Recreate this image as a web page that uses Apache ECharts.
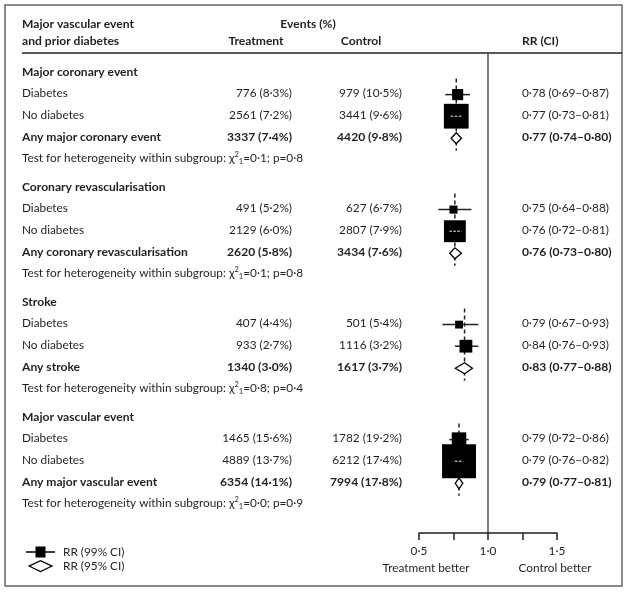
<!DOCTYPE html>
<html><head><meta charset="utf-8">
<script src="https://cdn.jsdelivr.net/npm/echarts@6/dist/echarts.min.js"></script>
<style>html,body{margin:0;padding:0;background:#fff}#c{width:629px;height:592px}</style>
</head><body><div id="c"></div><script>
// ---- data ----
const groups = ['Major coronary event','Coronary revascularisation','Stroke','Major vascular event'];
const totalLabels = ['Any major coronary event','Any coronary revascularisation','Any stroke','Any major vascular event'];
const subgroups = ['Diabetes','No diabetes'];
const treatEvents = [[776,2561,3337],[491,2129,2620],[407,933,1340],[1465,4889,6354]];
const treatPct = [[8.3,7.2,7.4],[5.2,6.0,5.8],[4.4,2.7,3.0],[15.6,13.7,14.1]];
const ctrlEvents = [[979,3441,4420],[627,2807,3434],[501,1116,1617],[1782,6212,7994]];
const ctrlPct = [[10.5,9.6,9.8],[6.7,7.9,7.6],[5.4,3.2,3.7],[19.2,17.4,17.8]];
const rr = [[0.78,0.77,0.77],[0.75,0.76,0.76],[0.79,0.84,0.83],[0.79,0.79,0.79]];
const rrLow = [[0.69,0.73,0.74],[0.64,0.72,0.73],[0.67,0.76,0.77],[0.72,0.76,0.77]];
const rrHigh = [[0.87,0.81,0.80],[0.88,0.81,0.80],[0.93,0.93,0.88],[0.86,0.82,0.81]];
const hetChi2 = [0.1,0.1,0.8,0.0];
const hetP = [0.8,0.8,0.4,0.9];
const xTickLabels = [0.5,1.0,1.5];

// ---- layout ----
const FONT = 'Lato, "DejaVu Sans", sans-serif';
const TXT = '#231f20';
const FS = 11.8, FSB = 12.1;
const ROW = 21.6, ROW0 = 72, GSTEP = 115, AXIS_Y = 533, HEAD_Y = 53;
const toRow = px => (px - ROW0) / ROW;
const rowOf = (g, k) => (g * GSTEP) / ROW + k;
const dot = (v, d) => v.toFixed(d).replace('.', '\u00b7');
const cell = (n, p) => n + ' (' + dot(p, 1) + '%)';

const COL_LABEL = 22, COL_TREAT = 292, COL_CTRL = 402, COL_RR = 522;

const textItems = [];
function addText(x, y, text, align, bold, rich) {
  textItems.push({ value: [x, y], text, align, bold, rich });
}
addText(COL_LABEL, toRow(24), 'Major vascular event', 'left', true);
addText(COL_LABEL, toRow(41), 'and prior diabetes', 'left', true);
addText(308, toRow(24), 'Events (%)', 'center', true);
addText(256, toRow(41), 'Treatment', 'center', true);
addText(361, toRow(41), 'Control', 'center', true);
addText(COL_RR, toRow(41), 'RR (CI)', 'left', true);

const boxData = [], diamondData = [], dashData = [];
groups.forEach((gName, g) => {
  addText(COL_LABEL, rowOf(g, 0), gName, 'left', true);
  for (let r = 0; r < 3; r++) {
    const y = rowOf(g, r + 1);
    const bold = r === 2;
    addText(COL_LABEL, y, r < 2 ? subgroups[r] : totalLabels[g], 'left', bold);
    addText(COL_TREAT, y, cell(treatEvents[g][r], treatPct[g][r]), 'right', bold);
    addText(COL_CTRL, y, cell(ctrlEvents[g][r], ctrlPct[g][r]), 'right', bold);
    addText(COL_RR, y, dot(rr[g][r], 2) + ' (' + dot(rrLow[g][r], 2) + '\u2013' + dot(rrHigh[g][r], 2) + ')', 'left', bold);
    const item = [rr[g][r], rrLow[g][r], rrHigh[g][r], y];
    if (r < 2) boxData.push(item); else diamondData.push(item);
  }
  addText(COL_LABEL, rowOf(g, 4),
    'Test for heterogeneity within subgroup: \u03c7{sup|2}{sub|1}=' + dot(hetChi2[g], 1) + '; p=' + dot(hetP[g], 1),
    'left', false, true);
  dashData.push([rr[g][2], rowOf(g, 1) - 0.7, rowOf(g, 3) + 0.65]);
});

const chart = echarts.init(document.getElementById('c'), null, { renderer: 'canvas' });

function renderText(params, api) {
  const it = textItems[params.dataIndex];
  const p = api.coord([api.value(0), api.value(1)]);
  const style = {
    text: it.text, x: 0, y: 0,
    fill: TXT,
    font: (it.bold ? 'bold ' + FSB : FS) + 'px ' + FONT,
    align: it.align, verticalAlign: 'middle'
  };
  if (it.rich) {
    style.rich = {
      sup: { fontSize: 7.5, fontFamily: FONT, fill: TXT, verticalAlign: 'top', lineHeight: 15 },
      sub: { fontSize: 7.5, fontFamily: FONT, fill: TXT, verticalAlign: 'bottom', lineHeight: 15 }
    };
  }
  return { type: 'text', x: p[0], y: p[1], style };
}

function renderBox(params, api) {
  const est = api.value(0), lo = api.value(1), hi = api.value(2), y = api.value(3);
  const c = api.coord([est, y]), pl = api.coord([lo, y]), ph = api.coord([hi, y]);
  const se = Math.log(hi / lo) / (2 * 2.576);
  const s = 0.5 / se;
  const cy = c[1] + 1;
  const children = [
    { type: 'line', shape: { x1: pl[0], y1: cy, x2: ph[0], y2: cy }, style: { stroke: '#222', lineWidth: 1.5 } },
    { type: 'rect', shape: { x: c[0] - s / 2, y: cy - s / 2, width: s, height: s }, style: { fill: '#000' } }
  ];
  if (ph[0] - pl[0] < s - 2) {
    children.push({ type: 'line', shape: { x1: pl[0], y1: cy, x2: ph[0], y2: cy },
      style: { stroke: '#fff', lineWidth: 1, lineDash: [2.5, 1.5] } });
  }
  return { type: 'group', children };
}

function renderDiamond(params, api) {
  const est = api.value(0), lo = api.value(1), hi = api.value(2), y = api.value(3);
  const c = api.coord([est, y]), pl = api.coord([lo, y]), ph = api.coord([hi, y]);
  const h = 11, cy = c[1] + 1.5;
  return { type: 'polygon', shape: { points: [[pl[0] - 1, cy], [c[0], cy - h / 2], [ph[0] + 1, cy], [c[0], cy + h / 2]] },
    style: { fill: '#fff', stroke: '#000', lineWidth: 1.3 } };
}

function renderDash(params, api) {
  const a = api.coord([api.value(0), api.value(1)]), b = api.coord([api.value(0), api.value(2)]);
  return { type: 'line', shape: { x1: a[0], y1: a[1], x2: b[0], y2: b[1] },
    style: { stroke: '#222', lineWidth: 1.5, lineDash: [4, 3] } };
}

const option = {
  animation: false,
  backgroundColor: '#fff',
  grid: [
    { left: 0, top: 0, width: 629, height: 592 },
    { left: 419, top: 0, width: 138, height: AXIS_Y }
  ],
  xAxis: [
    { gridIndex: 0, type: 'value', min: 0, max: 629, show: false },
    { gridIndex: 1, type: 'value', min: 0.5, max: 1.5, interval: 0.25,
      axisLine: { show: true, onZero: false, lineStyle: { color: '#222', width: 1.5 } },
      axisTick: { show: true, length: 7, lineStyle: { color: '#222', width: 1.5 } },
      splitLine: { show: false },
      axisLabel: { margin: 12, fontFamily: FONT, fontSize: FS, color: TXT,
        formatter: v => xTickLabels.some(t => Math.abs(t - v) < 1e-9) ? dot(v, 1) : '' } }
  ],
  yAxis: [
    { gridIndex: 0, type: 'value', inverse: true, min: toRow(0), max: toRow(592), show: false },
    { gridIndex: 1, type: 'value', inverse: true, min: toRow(0), max: toRow(AXIS_Y), show: false }
  ],
  legend: {
    orient: 'vertical', left: 26, top: 546, padding: 0, itemWidth: 31, itemHeight: 11, itemGap: 2,
    selectedMode: false,
    textStyle: { fontFamily: FONT, fontSize: FS, color: TXT, padding: [0, 0, 0, 2] },
    data: [
      { name: 'RR (99% CI)', icon: 'path://M0,4.75H9.5V0H19.5V4.75H29V6.25H19.5V11H9.5V6.25H0Z', itemStyle: { color: '#000', borderWidth: 0 } },
      { name: 'RR (95% CI)', icon: 'path://M0,5.5L11.5,0L23,5.5L11.5,11Z', itemStyle: { color: '#fff', borderColor: '#000', borderWidth: 1.2 } }
    ]
  },
  graphic: [
    { type: 'rect', shape: { x: 5, y: 5, width: 617, height: 581 }, style: { fill: 'none', stroke: '#666', lineWidth: 1.5 }, silent: true },
    { type: 'line', shape: { x1: 22, y1: HEAD_Y, x2: 622, y2: HEAD_Y }, style: { stroke: '#222', lineWidth: 1.5 }, silent: true },
    { type: 'text', x: 426, y: 568, style: { text: 'Treatment better', font: FS + 'px ' + FONT, fill: TXT, align: 'center', verticalAlign: 'middle' } },
    { type: 'text', x: 555, y: 568, style: { text: 'Control better', font: FS + 'px ' + FONT, fill: TXT, align: 'center', verticalAlign: 'middle' } }
  ],
  series: [
    { type: 'custom', name: 'table', xAxisIndex: 0, yAxisIndex: 0, silent: true,
      data: textItems.map(t => t.value), renderItem: renderText },
    { type: 'line', name: 'no effect', xAxisIndex: 1, yAxisIndex: 1, silent: true, symbol: 'none',
      data: [[1, toRow(HEAD_Y)], [1, toRow(AXIS_Y)]], lineStyle: { color: '#222', width: 1.2 } },
    { type: 'custom', name: 'overall', xAxisIndex: 1, yAxisIndex: 1, silent: true,
      encode: { x: 0, y: [1, 2] }, data: dashData, renderItem: renderDash },
    { type: 'custom', name: 'RR (99% CI)', xAxisIndex: 1, yAxisIndex: 1, silent: true,
      itemStyle: { color: '#000' }, encode: { x: [0, 1, 2], y: 3 }, data: boxData, renderItem: renderBox },
    { type: 'custom', name: 'RR (95% CI)', xAxisIndex: 1, yAxisIndex: 1, silent: true,
      itemStyle: { color: '#fff', borderColor: '#000' }, encode: { x: [0, 1, 2], y: 3 }, data: diamondData, renderItem: renderDiamond }
  ]
};
chart.setOption(option);
</script></body></html>
